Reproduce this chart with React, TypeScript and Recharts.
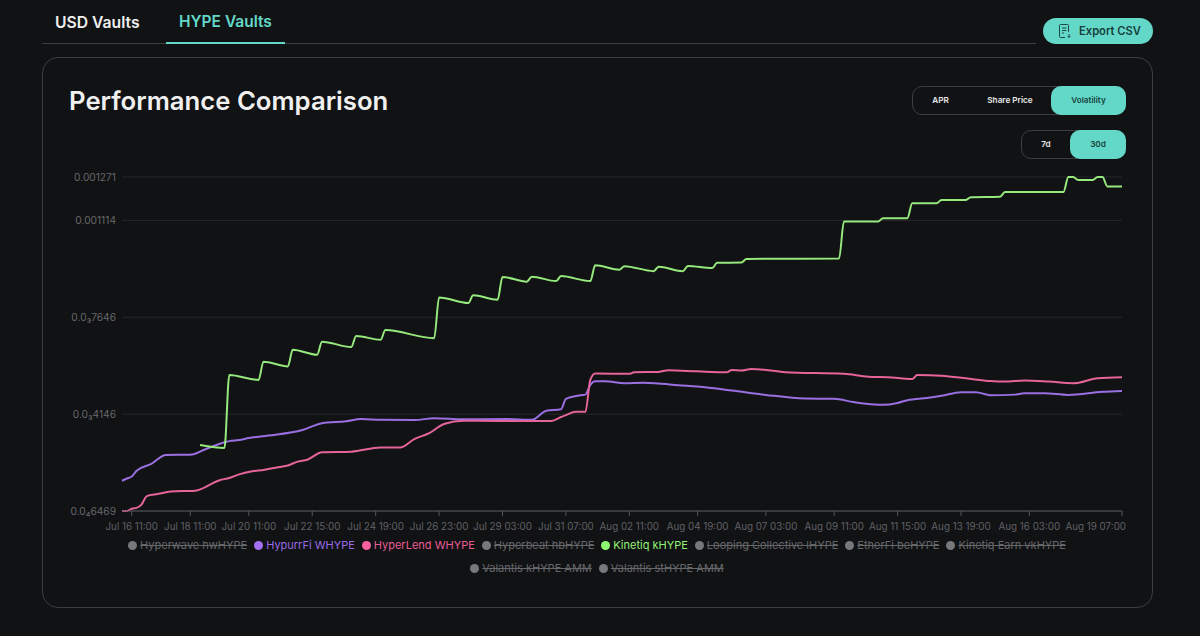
import { CartesianGrid, Line, LineChart, XAxis, YAxis } from "recharts";

// hours are counted from Jul 16 11:00, values are in millionths
const tickHours = [0, 48, 96, 148, 200, 252, 304, 356, 408, 464, 520, 576, 628, 680, 736, 812];
const tickLabels = [
	"Jul 16 11:00",
	"Jul 18 11:00",
	"Jul 20 11:00",
	"Jul 22 15:00",
	"Jul 24 19:00",
	"Jul 26 23:00",
	"Jul 29 03:00",
	"Jul 31 07:00",
	"Aug 02 11:00",
	"Aug 04 19:00",
	"Aug 07 03:00",
	"Aug 09 11:00",
	"Aug 11 15:00",
	"Aug 13 19:00",
	"Aug 16 03:00",
	"Aug 19 07:00",
];

const yTicks = [64.69, 414.6, 764.6, 1114, 1271];
const yLabels = ["0.0₄6469", "0.0₃4146", "0.0₃7646", "0.001114", "0.001271"];

const kinetiqHours = [
	56, 76, 80, 104, 108, 128, 132, 152, 156, 180, 184, 204, 208, 248, 252, 276, 280, 300, 304, 324, 328, 348, 352, 376,
	380, 400, 404, 428, 432, 452, 456, 476, 480, 500, 504, 580, 584, 612, 616, 636, 640, 660, 664, 684, 688, 712, 716,
	764, 768, 772, 776, 788, 792, 796, 800, 812,
];
const kinetiqValues = [
	303, 292, 556, 538, 604, 587, 647, 629, 676, 657, 697, 683, 718, 689, 836, 816, 844, 828, 910, 893, 911, 895, 913, 895,
	952, 936, 949, 931, 947, 931, 950, 942, 961, 962, 975, 977, 1110, 1110, 1122, 1122, 1176, 1176, 1188, 1188, 1198,
	1200, 1217, 1217, 1271, 1271, 1260, 1260, 1271, 1271, 1237, 1237,
];

const hypurrHours = [
	-8, -4, 0, 4, 16, 28, 48, 60, 76, 80, 88, 96, 112, 140, 156, 176, 188, 204, 232, 248, 272, 308, 328, 340, 352, 356,
	368, 372, 376, 380, 388, 404, 420, 432, 448, 464, 492, 520, 552, 576, 592, 616, 628, 636, 652, 664, 680, 692, 704,
	724, 732, 748, 768, 796, 812,
];
const hypurrValues = [
	174, 182, 189, 210, 235, 267, 268, 287, 313, 317, 321, 328, 337, 357, 382, 389, 397, 394, 393, 400, 396, 397, 394, 427,
	432, 470, 483, 485, 520, 533, 533, 526, 528, 525, 519, 514, 500, 484, 471, 470, 458, 448, 455, 465, 473, 481, 494,
	494, 483, 485, 490, 490, 484, 495, 498,
];

const hyperlendHours = [
	-8, -4, 0, 4, 8, 12, 16, 20, 32, 52, 72, 80, 88, 100, 108, 120, 128, 136, 144, 156, 180, 204, 220, 232, 244, 256, 272,
	300, 344, 352, 356, 364, 372, 376, 380, 408, 412, 432, 440, 464, 488, 492, 500, 508, 536, 584, 604, 620, 640, 644,
	664, 684, 704, 716, 732, 752, 772, 792, 812,
];
const hyperlendValues = [
	65, 65, 73, 76, 88, 117, 123, 125, 135, 138, 176, 184, 197, 209, 213, 223, 229, 243, 250, 277, 279, 294, 294, 325, 346,
	379, 391, 390, 390, 404, 411, 423, 423, 538, 561, 560, 566, 567, 573, 569, 566, 574, 572, 578, 566, 560, 550, 548,
	541, 556, 553, 544, 534, 532, 536, 532, 526, 544, 548,
];

const legendNames = [
	"Hyperwave hwHYPE",
	"HypurrFi WHYPE",
	"HyperLend WHYPE",
	"Hyperbeat hbHYPE",
	"Kinetiq kHYPE",
	"Looping Collective lHYPE",
	"EtherFi beHYPE",
	"Kinetiq Earn vkHYPE",
	"Valantis kHYPE AMM",
	"Valantis stHYPE AMM",
];
const activeColors: Record<string, string[]> = {
	"HypurrFi WHYPE": ["#a56ff5", "#9a6be6"],
	"HyperLend WHYPE": ["#fb5f9e", "#e85c94"],
	"Kinetiq kHYPE": ["#8dfb6f", "#93f078"],
};

const TEAL = "#63d8c9";
const BG = "#111214";
const BORDER = "#3c3d40";
const FONT = "Inter, sans-serif";

function toRows(hours: number[], values: number[]) {
	return hours.map((hour, i) => ({ hour, value: values[i] }));
}

// the last label is pulled inside the plot, the rest are centred on their tick
function TimeTick({ x, y, payload }: { x: number; y: number; payload: { value: number } }) {
	const index = tickHours.indexOf(payload.value);
	const isLast = index === tickHours.length - 1;
	return (
		<text
			x={isLast ? x + 4 : x}
			y={y}
			dy="0.71em"
			textAnchor={isLast ? "end" : "middle"}
			fill="#606165"
			fontSize={9.8}
			fontFamily={FONT}
		>
			{tickLabels[index]}
		</text>
	);
}

function VaultLegend() {
	return (
		<div
			style={{
				position: "absolute",
				left: 120,
				top: 538,
				width: 954,
				display: "flex",
				flexWrap: "wrap",
				justifyContent: "center",
				columnGap: 7,
				rowGap: 8,
				fontSize: 11,
				lineHeight: "15px",
			}}
		>
			{legendNames.map((name) => {
				const colors = activeColors[name];
				return (
					<span key={name} style={{ display: "inline-flex", alignItems: "center", gap: 3 }}>
						<span
							style={{
								width: 9,
								height: 9,
								borderRadius: "50%",
								background: colors ? colors[0] : "#77787a",
							}}
						/>
						<span
							style={{
								color: colors ? colors[1] : "#66676a",
								textDecoration: colors ? "none" : "line-through",
								whiteSpace: "nowrap",
							}}
						>
							{name}
						</span>
					</span>
				);
			})}
		</div>
	);
}

function Toggle({
	left,
	top,
	width,
	options,
	active,
}: {
	left: number;
	top: number;
	width: number;
	options: { label: string; x: number; w: number }[];
	active: string;
}) {
	return (
		<div
			style={{
				position: "absolute",
				left,
				top,
				width,
				height: 29,
				boxSizing: "border-box",
				border: `1px solid ${BORDER}`,
				borderRadius: 10,
			}}
		>
			{options.map((o) => (
				<div
					key={o.label}
					style={{
						position: "absolute",
						left: o.x,
						top: -1,
						width: o.w,
						height: 29,
						lineHeight: "29px",
						textAlign: "center",
						fontSize: 8.2,
						fontWeight: 600,
						borderRadius: 10,
						background: o.label === active ? TEAL : "transparent",
						color: o.label === active ? "#17403c" : "#e8e8e8",
					}}
				>
					{o.label}
				</div>
			))}
		</div>
	);
}

export default function App() {
	return (
		<div
			style={{
				position: "absolute",
				left: 0,
				top: 0,
				width: 1200,
				height: 636,
				overflow: "hidden",
				background: BG,
				fontFamily: FONT,
			}}
		>
			<div style={{ position: "absolute", left: 42, top: 43, width: 994, height: 1, background: BORDER }} />
			<div
				style={{ position: "absolute", left: 55, top: 12, fontSize: 15.7, fontWeight: 600, color: "#efefef", lineHeight: "22px" }}
			>
				USD Vaults
			</div>
			<div
				style={{ position: "absolute", left: 179, top: 11, fontSize: 15.5, fontWeight: 600, color: TEAL, lineHeight: "22px" }}
			>
				HYPE Vaults
			</div>
			<div style={{ position: "absolute", left: 166, top: 42, width: 119, height: 2, background: TEAL }} />

			<div
				style={{
					position: "absolute",
					left: 1043,
					top: 18,
					width: 110,
					height: 26,
					borderRadius: 13,
					background: TEAL,
				}}
			>
				<svg width="16" height="16" viewBox="0 0 16 16" style={{ position: "absolute", left: 14, top: 5 }}>
					<path
						d="M8 14.5H3.5a1 1 0 0 1-1-1v-11a1 1 0 0 1 1-1h7a1 1 0 0 1 1 1V9M5 5h4.5M5 7.5h4.5M5 10h2M12 11v3.5M10.5 13l1.5 1.5 1.5-1.5"
						fill="none"
						stroke="#1c4a45"
						strokeWidth="1"
					/>
				</svg>
				<span
					style={{
						position: "absolute",
						left: 36,
						top: 0,
						lineHeight: "26px",
						fontSize: 11.2,
						fontWeight: 600,
						color: "#17403c",
						whiteSpace: "nowrap",
					}}
				>
					Export CSV
				</span>
			</div>

			<div
				style={{
					position: "absolute",
					left: 42,
					top: 57,
					width: 1111,
					height: 551,
					boxSizing: "border-box",
					border: `1px solid ${BORDER}`,
					borderRadius: 16,
				}}
			/>
			<div
				style={{ position: "absolute", left: 69, top: 84, fontSize: 25.7, fontWeight: 600, color: "#f0f0f0", lineHeight: "34px" }}
			>
				Performance Comparison
			</div>

			<Toggle
				left={912}
				top={86}
				width={214}
				active="Volatility"
				options={[
					{ label: "APR", x: 0, w: 55 },
					{ label: "Share Price", x: 62, w: 70 },
					{ label: "Volatility", x: 138, w: 75 },
				]}
			/>
			<Toggle
				left={1021}
				top={130}
				width={105}
				active="30d"
				options={[
					{ label: "7d", x: 0, w: 48 },
					{ label: "30d", x: 48, w: 56 },
				]}
			/>

			<div style={{ position: "absolute", left: 0, top: 0 }}>
				<LineChart width={1200} height={560} margin={{ top: 177, right: 78, bottom: 14, left: 62 }}>
					<CartesianGrid horizontal vertical={false} stroke="#26272a" strokeWidth={1} />
					<XAxis
						type="number"
						dataKey="hour"
						domain={[-8, 812]}
						ticks={tickHours}
						interval={0}
						height={35}
						tickSize={5}
						tickMargin={7}
						stroke="#55565a"
						tick={TimeTick}
					/>
					<YAxis
						type="number"
						domain={[64.69, 1271]}
						ticks={yTicks}
						interval={0}
						width={60}
						axisLine={false}
						tickLine={false}
						tickSize={0}
						tickMargin={6}
						tickFormatter={(v: number) => yLabels[yTicks.indexOf(v)]}
						tick={{ fill: "#66676b", fontSize: 10.2, fontFamily: FONT }}
					/>
					<Line
						data={toRows(hypurrHours, hypurrValues)}
						dataKey="value"
						name="HypurrFi WHYPE"
						type="monotoneX"
						stroke="#9a6fe2"
						strokeWidth={2}
						dot={false}
						isAnimationActive={false}
					/>
					<Line
						data={toRows(hyperlendHours, hyperlendValues)}
						dataKey="value"
						name="HyperLend WHYPE"
						type="monotoneX"
						stroke="#e5659b"
						strokeWidth={2}
						dot={false}
						isAnimationActive={false}
					/>
					<Line
						data={toRows(kinetiqHours, kinetiqValues)}
						dataKey="value"
						name="Kinetiq kHYPE"
						type="monotoneX"
						stroke="#96e97c"
						strokeWidth={2}
						dot={false}
						isAnimationActive={false}
					/>
				</LineChart>
			</div>

			<VaultLegend />
		</div>
	);
}
